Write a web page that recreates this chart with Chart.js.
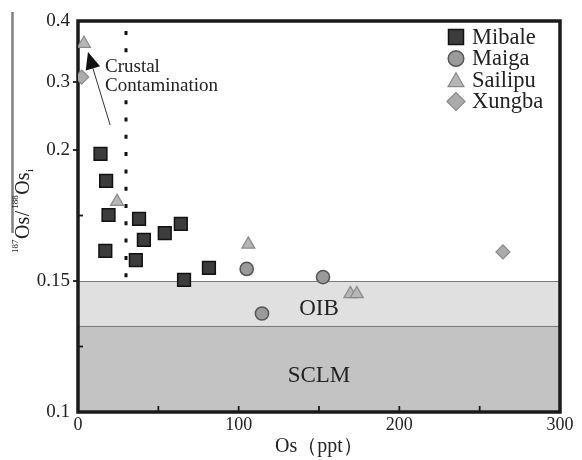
<!DOCTYPE html>
<html><head><meta charset="utf-8">
<script src="https://cdn.jsdelivr.net/npm/chart.js@4/dist/chart.umd.min.js"></script>
<style>html,body{margin:0;padding:0;background:#fff}#wrap{width:582px;height:460px;position:relative}</style>
</head><body><div id="wrap"><canvas id="c" width="582" height="460"></canvas></div>
<script>
// ---- data ----
const seriesNames = ['Mibale', 'Maiga', 'Sailipu', 'Xungba'];
const mibaleOs    = [14, 17.5, 19, 17, 38, 41, 36, 54, 64, 66, 81.5];
const mibaleRatio = [0.1985, 0.1882, 0.1752, 0.1615, 0.1737, 0.1657, 0.158, 0.1683, 0.1718, 0.1504, 0.155];
const maigaOs     = [105, 152.5, 114.5];
const maigaRatio  = [0.1546, 0.1515, 0.1376];
const sailipuOs   = [3.7, 24.3, 106, 169.5, 173.5];
const sailipuRatio= [0.363, 0.1803, 0.164, 0.1451, 0.1451];
const xungbaOs    = [2.3, 264.5];
const xungbaRatio = [0.308, 0.1611];
const yTickValues = [0.1, 0.125, 0.15, 0.175, 0.2, 0.3, 0.4];
const yTickLabels = ['0.1', '', '0.15', '', '0.2', '0.3', '0.4'];
const xTickValues = [0, 50, 100, 150, 200, 250, 300];
const xTickLabels = ['0', '', '100', '', '200', '', '300'];
const bandOIB  = [0.133, 0.15];
const bandSCLM = [0.1, 0.133];
const contaminationOs = 30;

// ---- piecewise y scale (0.1-0.2 stretched, as in the original) ----
const Y_BREAKS = [0.1, 0.2, 0.3, 0.4];
const Y_FRACS  = [0, 0.670, 0.844, 1];
function toDec(v){
  for (let i = 0; i < Y_BREAKS.length - 1; i++) {
    if (v <= Y_BREAKS[i+1] || i === Y_BREAKS.length - 2) {
      const t = (v - Y_BREAKS[i]) / (Y_BREAKS[i+1] - Y_BREAKS[i]);
      return Y_FRACS[i] + t * (Y_FRACS[i+1] - Y_FRACS[i]);
    }
  }
}
function fromDec(d){
  for (let i = 0; i < Y_FRACS.length - 1; i++) {
    if (d <= Y_FRACS[i+1] || i === Y_FRACS.length - 2) {
      const t = (d - Y_FRACS[i]) / (Y_FRACS[i+1] - Y_FRACS[i]);
      return Y_BREAKS[i] + t * (Y_BREAKS[i+1] - Y_BREAKS[i]);
    }
  }
}
class PiecewiseScale extends Chart.LinearScale {
  getPixelForValue(v){ return this.getPixelForDecimal(toDec(v)); }
  getValueForPixel(p){ return fromDec(this.getDecimalForPixel(p)); }
}
PiecewiseScale.id = 'piecewise';
PiecewiseScale.defaults = Chart.LinearScale.defaults;
Chart.register(PiecewiseScale);

const SERIF = '"Liberation Serif", "Times New Roman", serif';
const styles = [
  {pointStyle:'rect',     radius:9,   bg:'#3c3c3c', border:'#111',   bw:1.5, lr:10.6},
  {pointStyle:'circle',   radius:6.6, bg:'#9a9a9a', border:'#555',   bw:1.5, lr:7.8},
  {pointStyle:'triangle', radius:7.5, bg:'#b6b6b6', border:'#8a8a8a',bw:1.2, lr:9.2},
  {pointStyle:'rectRot',  radius:7,   bg:'#ababab', border:'#888',   bw:1.2, lr:9}
];
const xs = [mibaleOs, maigaOs, sailipuOs, xungbaOs];
const ys = [mibaleRatio, maigaRatio, sailipuRatio, xungbaRatio];
const datasets = seriesNames.map((n, i) => ({
  label: n,
  data: xs[i].map((x, j) => ({x, y: ys[i][j]})),
  pointStyle: styles[i].pointStyle,
  pointRadius: styles[i].radius,
  pointHoverRadius: styles[i].radius,
  backgroundColor: styles[i].bg,
  borderColor: styles[i].border,
  pointBorderWidth: styles[i].bw,
  showLine: false
}));

const decor = {
  id: 'decor',
  beforeDatasetsDraw(chart){
    const {ctx, chartArea: a, scales: {x, y}} = chart;
    ctx.save();
    const w = a.right - a.left;
    const yO1 = y.getPixelForValue(bandOIB[1]), yO0 = y.getPixelForValue(bandOIB[0]);
    const yS0 = y.getPixelForValue(bandSCLM[0]);
    ctx.fillStyle = '#e0e0e0'; ctx.fillRect(a.left, yO1, w, yO0 - yO1);
    ctx.fillStyle = '#c3c3c3'; ctx.fillRect(a.left, yO0, w, yS0 - yO0);
    ctx.strokeStyle = '#7a7a7a'; ctx.lineWidth = 1;
    [yO1, yO0].forEach(p => { ctx.beginPath(); ctx.moveTo(a.left, Math.round(p)+0.5); ctx.lineTo(a.right, Math.round(p)+0.5); ctx.stroke(); });
    // band labels
    ctx.fillStyle = '#222'; ctx.textAlign = 'center'; ctx.textBaseline = 'middle';
    ctx.font = '23px ' + SERIF;
    ctx.fillText('OIB', x.getPixelForValue(150), y.getPixelForValue(0.1393));
    ctx.fillText('SCLM', x.getPixelForValue(150), y.getPixelForValue(0.1138));
    // dotted contamination line
    ctx.strokeStyle = '#111'; ctx.lineWidth = 3; ctx.setLineDash([4, 13.3]);
    const dx = Math.round(x.getPixelForValue(contaminationOs));
    ctx.beginPath(); ctx.moveTo(dx, a.top + 10); ctx.lineTo(dx, y.getPixelForValue(0.1505)); ctx.stroke();
    ctx.setLineDash([]);
    // annotation text on white background
    ctx.fillStyle = '#fff';
    ctx.fillRect(103, 57, 118, 40);
    ctx.fillStyle = '#222'; ctx.textAlign = 'left'; ctx.textBaseline = 'middle';
    ctx.font = '19px ' + SERIF;
    ctx.fillText('Crustal', 105, 67);
    ctx.fillText('Contamination', 105, 86);
    // arrow
    const x0 = x.getPixelForValue(20), y0 = y.getPixelForValue(0.2368);
    const x1 = x.getPixelForValue(6.2), y1 = y.getPixelForValue(0.349);
    const ang = Math.atan2(y1 - y0, x1 - x0);
    const hl = 17, hw = 7.5;
    const bx = x1 - Math.cos(ang) * hl, by = y1 - Math.sin(ang) * hl;
    ctx.strokeStyle = '#333'; ctx.lineWidth = 1;
    ctx.beginPath(); ctx.moveTo(x0, y0); ctx.lineTo(bx, by); ctx.stroke();
    ctx.fillStyle = '#111';
    ctx.beginPath(); ctx.moveTo(x1, y1);
    ctx.lineTo(bx - Math.sin(ang) * hw, by + Math.cos(ang) * hw);
    ctx.lineTo(bx + Math.sin(ang) * hw, by - Math.cos(ang) * hw);
    ctx.closePath(); ctx.fill();
    // frame
    ctx.strokeStyle = '#1a1a1a'; ctx.lineWidth = 3.5;
    ctx.strokeRect(a.left, a.top, w, a.bottom - a.top);
    // ticks
    ctx.lineWidth = 1.8;
    xTickValues.forEach(v => {
      if (v === 0 || v === 300) return;
      const px = x.getPixelForValue(v);
      ctx.beginPath(); ctx.moveTo(px, a.bottom); ctx.lineTo(px, a.bottom - 6); ctx.stroke();
    });
    yTickValues.forEach((v, i) => {
      if (v === 0.1 || v === 0.4) return;
      const py = y.getPixelForValue(v);
      ctx.beginPath();
      if (yTickLabels[i] === '') { ctx.moveTo(a.left, py); ctx.lineTo(a.left + 5, py); }
      else { ctx.moveTo(a.left - 5, py); ctx.lineTo(a.left, py); }
      ctx.stroke();
    });
    ctx.restore();
  },
  afterDatasetsDraw(chart){
    const {ctx} = chart;
    ctx.save();
    // legend
    const ly = [37, 58.5, 80, 101.5];
    seriesNames.forEach((n, i) => {
      const s = styles[i];
      ctx.fillStyle = s.bg; ctx.strokeStyle = s.border; ctx.lineWidth = s.bw;
      Chart.helpers.drawPoint(ctx, {pointStyle: s.pointStyle, radius: s.lr, rotation: 0, borderWidth: s.bw}, 456, ly[i] + (s.pointStyle === 'triangle' ? 2 : 0));
      ctx.fillStyle = '#222'; ctx.font = '22.5px ' + SERIF;
      ctx.textAlign = 'left'; ctx.textBaseline = 'middle';
      ctx.fillText(n, 472, ly[i] + 1);
    });
    // y axis title with overline
    ctx.strokeStyle = '#808080'; ctx.lineWidth = 2.5;
    ctx.beginPath(); ctx.moveTo(12.5, 12); ctx.lineTo(12.5, 233); ctx.stroke();
    ctx.translate(29, 253); ctx.rotate(-Math.PI / 2);
    ctx.fillStyle = '#222'; ctx.textBaseline = 'alphabetic'; ctx.textAlign = 'left';
    const parts = [['187', 9, -11.5], ['Os', 20, 0], ['/', 20, 0], ['188', 9, -11.5], ['Os', 20, 0], ['i', 11, 4]];
    let xx = 0;
    parts.forEach(([t, s, dy]) => {
      ctx.font = s + 'px ' + SERIF;
      ctx.fillText(t, xx, dy);
      xx += ctx.measureText(t).width + (t === '/' ? 2 : 0.5);
    });
    ctx.restore();
  }
};

new Chart(document.getElementById('c'), {
  type: 'scatter',
  data: {datasets},
  options: {
    responsive: false,
    animation: false,
    devicePixelRatio: 1,
    layout: {padding: {left: 0, right: 22, top: 21, bottom: 0}},
    plugins: {legend: {display: false}, tooltip: {enabled: false}},
    scales: {
      x: {
        type: 'linear', min: 0, max: 300,
        afterBuildTicks: s => { s.ticks = xTickValues.map(v => ({value: v})); },
        afterFit: s => { s.height = 48; s.paddingLeft = 0; s.paddingRight = 0; },
        grid: {display: false, drawTicks: false}, border: {display: false},
        ticks: {autoSkip: false, maxRotation: 0, padding: 2, color: '#222',
          font: {family: SERIF, size: 18},
          callback: (v, i) => xTickLabels[i]},
        title: {display: true, text: 'Os（ppt）', color: '#222', font: {family: SERIF, size: 20}, padding: {top: 0, bottom: 1}}
      },
      y: {
        type: 'piecewise', min: 0.1, max: 0.4,
        afterBuildTicks: s => { s.ticks = yTickValues.map(v => ({value: v})); },
        afterFit: s => { s.width = 78; s.paddingTop = 0; s.paddingBottom = 0; },
        grid: {display: false, drawTicks: false}, border: {display: false},
        ticks: {autoSkip: false, padding: 8, color: '#222',
          font: {family: SERIF, size: 19},
          callback: (v, i) => yTickLabels[i]}
      }
    }
  },
  plugins: [decor]
});
</script></body></html>
